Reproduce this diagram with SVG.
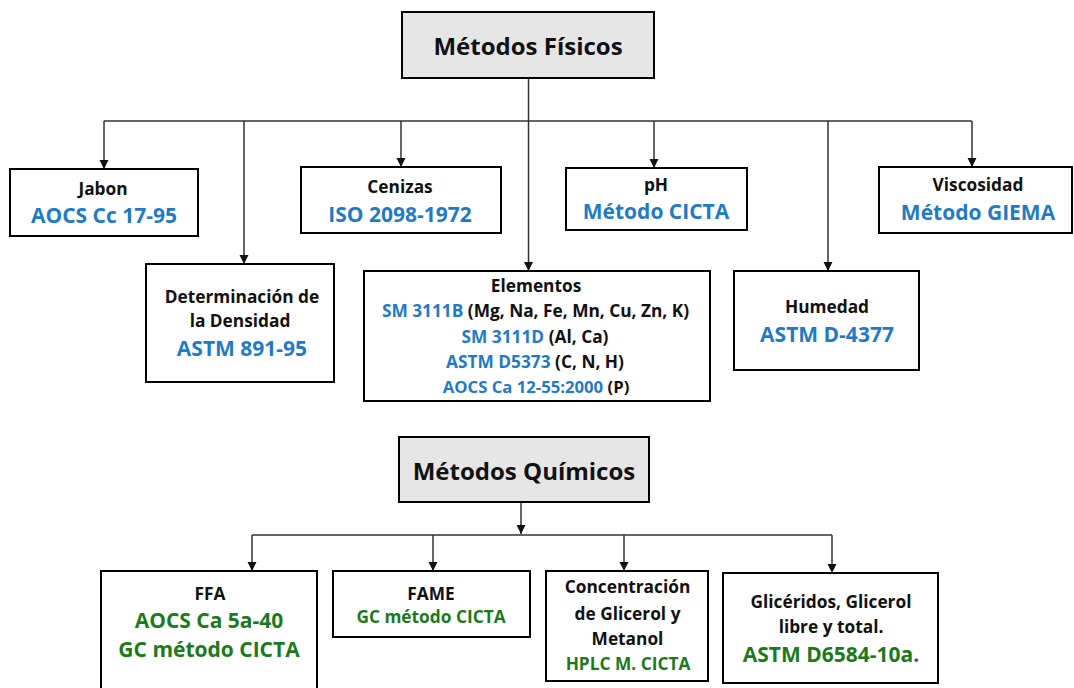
<svg xmlns="http://www.w3.org/2000/svg" width="1074" height="688" viewBox="0 0 1074 688">
<style>
.box{fill:#fff;stroke:#000;stroke-width:2}
.ttlbox{fill:#e6e6e6;stroke:#000;stroke-width:2}
text{font-family:"Open Sans","Liberation Sans",sans-serif;font-weight:700;text-anchor:middle;fill:#111}
.ttl{font-size:24px}
.lbl{font-size:17.3px}
.code{font-size:21px;fill:#1f7bc6}
.b{fill:#1f7bc6}
.g{fill:#1c7a1c}
.p{fill:#7030a0}
.conn line{stroke:#333;stroke-width:1.5;fill:none}
</style>
<defs>
<marker id="ah" markerUnits="userSpaceOnUse" markerWidth="10" markerHeight="10" refX="9" refY="4.5" orient="auto">
<path d="M0,0 L9,4.5 L0,9 z" fill="#111"/>
</marker>
</defs>
<g class="conn" id="connectors">
<line x1="528.5" y1="78" x2="528.5" y2="271" marker-end="url(#ah)"/>
<line x1="104" y1="121" x2="972" y2="121"/>
<line x1="104" y1="121" x2="104" y2="169" marker-end="url(#ah)"/>
<line x1="244" y1="121" x2="244" y2="264" marker-end="url(#ah)"/>
<line x1="401" y1="121" x2="401" y2="167" marker-end="url(#ah)"/>
<line x1="654" y1="121" x2="654" y2="168" marker-end="url(#ah)"/>
<line x1="828" y1="121" x2="828" y2="271" marker-end="url(#ah)"/>
<line x1="972" y1="121" x2="972" y2="167" marker-end="url(#ah)"/>
<line x1="521" y1="502" x2="521" y2="534" marker-end="url(#ah)"/>
<line x1="252" y1="535" x2="832" y2="535"/>
<line x1="252" y1="535" x2="252" y2="571" marker-end="url(#ah)"/>
<line x1="433" y1="535" x2="433" y2="571" marker-end="url(#ah)"/>
<line x1="624" y1="535" x2="624" y2="571" marker-end="url(#ah)"/>
<line x1="832" y1="535" x2="832" y2="573" marker-end="url(#ah)"/>
</g>
<g id="fisicos">
<rect class="ttlbox" x="402" y="12" width="252" height="66"/>
<text class="ttl" x="528" y="55">Métodos Físicos</text>
</g>
<g id="jabon">
<rect class="box" x="10" y="169" width="188" height="67"/>
<text class="lbl" x="103" y="195">Jabon</text>
<text class="code" x="104" y="223">AOCS Cc 17-95</text>
</g>
<g id="cenizas">
<rect class="box" x="301" y="167" width="200" height="66"/>
<text class="lbl" x="400" y="193">Cenizas</text>
<text class="code" x="400" y="222">ISO 2098-1972</text>
</g>
<g id="ph">
<rect class="box" x="566" y="168" width="181" height="62"/>
<text class="lbl" x="656" y="191">pH</text>
<text class="code" x="656" y="219">Método CICTA</text>
</g>
<g id="viscosidad">
<rect class="box" x="879" y="167" width="193" height="66"/>
<text class="lbl" x="978" y="191">Viscosidad</text>
<text class="code" x="978" y="220">Método GIEMA</text>
</g>
<g id="densidad">
<rect class="box" x="146" y="264" width="188" height="118"/>
<text class="lbl" x="242" y="303">Determinación de</text>
<text class="lbl" x="240" y="327">la Densidad</text>
<text class="code" x="242" y="356">ASTM 891-95</text>
</g>
<g id="elementos">
<rect class="box" x="364" y="271" width="346" height="130"/>
<text class="lbl" x="536" y="292">Elementos</text>
<text class="lbl" x="535.5" y="317"><tspan class="b">SM 3111B</tspan> (Mg, Na, Fe, Mn, Cu, Zn, K)</text>
<text class="lbl" x="535" y="343"><tspan class="b">SM 3111D</tspan> (Al, Ca)</text>
<text class="lbl" x="535" y="368"><tspan class="b">ASTM D5373</tspan> (C, N, H)</text>
<text class="lbl" x="536" y="393" style="font-size:16.7px"><tspan class="b">AOCS Ca 12-55:2000</tspan> (P)</text>
</g>
<g id="humedad">
<rect class="box" x="734" y="271" width="185" height="99"/>
<text class="lbl" x="827" y="313">Humedad</text>
<text class="code" x="827" y="342">ASTM D-4377</text>
</g>
<g id="quimicos">
<rect class="ttlbox" x="399" y="437" width="250" height="65"/>
<text class="ttl" x="524" y="480">Métodos Químicos</text>
</g>
<g id="ffa">
<rect class="box" x="101" y="571" width="216" height="130"/>
<text class="lbl" x="210" y="600">FFA</text>
<text class="code g" x="209" y="628">AOCS Ca 5a-40</text>
<text class="code g" x="209" y="657">GC método CICTA</text>
</g>
<g id="fame">
<rect class="box" x="333" y="571" width="197" height="66"/>
<text class="lbl" x="431" y="600">FAME</text>
<text class="lbl g" x="431" y="623">GC método CICTA</text>
</g>
<g id="concentracion">
<rect class="box" x="546" y="571" width="162" height="110"/>
<text class="lbl" x="627.5" y="593">Concentración</text>
<text class="lbl" x="627.5" y="620">de Glicerol y</text>
<text class="lbl" x="627.5" y="645">Metanol</text>
<text class="lbl g" x="628" y="670">HPLC M. CICTA</text>
</g>
<g id="gliceridos">
<rect class="box" x="723" y="573" width="215" height="110"/>
<text class="lbl" x="831" y="608">Glicéridos, Glicerol</text>
<text class="lbl" x="831" y="633">libre y total.</text>
<text class="code" x="831" y="662"><tspan class="g">ASTM D6584-10a</tspan><tspan class="p">.</tspan></text>
</g>
</svg>
